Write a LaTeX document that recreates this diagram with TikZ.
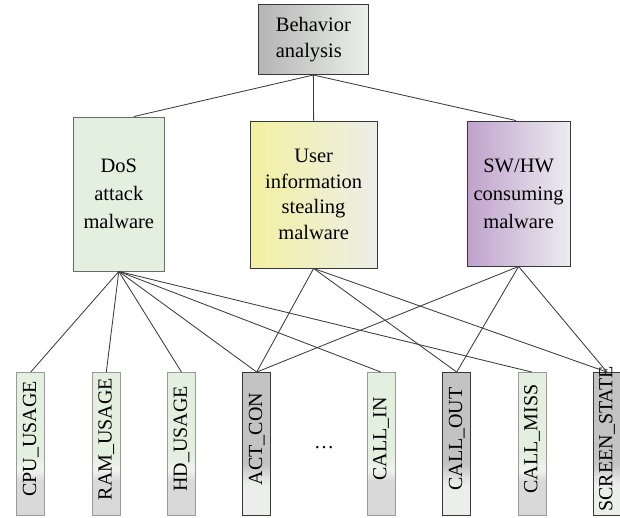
\documentclass[tikz,border=0pt]{standalone}
\usepackage{fontspec}
\setmainfont{Liberation Serif}
\usetikzlibrary{calc}
\definecolor{linec}{HTML}{3C3C3C}
\definecolor{boxdark}{HTML}{383838}
\definecolor{lborder}{HTML}{9A9A9A}
\definecolor{dosfill}{HTML}{E3EFDF}
\definecolor{dosborder}{HTML}{6A6A6A}
\definecolor{bgreen}{HTML}{E3EFDF}
\definecolor{bwhite}{HTML}{F1F3F0}
\definecolor{bgrey}{HTML}{D9D9D9}
\definecolor{dgrey}{HTML}{C3C3C3}
\definecolor{dlight}{HTML}{ECEEEC}
\definecolor{baL}{HTML}{B4B4B4}
\definecolor{baR}{HTML}{ECEFEA}
\definecolor{uiL}{HTML}{F3F0A0}
\definecolor{uiM}{HTML}{F0F1D2}
\definecolor{uiR}{HTML}{ECEEE8}
\definecolor{swL}{HTML}{C0A2CC}
\definecolor{swM}{HTML}{DCCEE2}
\definecolor{swR}{HTML}{ECECF0}
\pgfdeclareverticalshading{greenfade}{100bp}{color(0bp)=(bgrey); color(25bp)=(bgrey); color(37bp)=(bgrey); color(41bp)=(bwhite); color(46bp)=(bgreen); color(75bp)=(bgreen); color(100bp)=(bgreen)}
\pgfdeclareverticalshading{greyfade}{100bp}{color(0bp)=(dlight); color(25bp)=(dlight); color(36bp)=(dlight); color(43bp)=(dgrey); color(75bp)=(dgrey); color(100bp)=(dgrey)}
\begin{document}
\begin{tikzpicture}[x=1pt,y=-1pt,
  every node/.style={inner sep=0pt, text=black},
  topbox/.style={draw=boxdark, line width=0.9pt, align=center},
  lightbox/.style={draw=lborder, line width=0.8pt, shading=greenfade, minimum width=28pt, minimum height=143pt},
  darkbox/.style={draw=boxdark, line width=0.9pt, shading=greyfade, minimum width=28pt, minimum height=143pt},
  vlabel/.style={rotate=90, font=\fontsize{20}{24}\selectfont},
  conn/.style={draw=linec, line width=0.85pt}]
\useasboundingbox (0,0) rectangle (620,517);
% top level
\node[topbox, align=left, left color=baL, right color=baR, minimum width=110.3pt, minimum height=70.5pt, font=\fontsize{20.5}{26}\selectfont] (ba) at (313.4,39.3) {Behavior\\analysis};
% middle level
\node[topbox, draw=dosborder, fill=dosfill, minimum width=91.3pt, minimum height=154pt, font=\fontsize{20.5}{28}\selectfont] (dos) at (118.8,194) {DoS\\attack\\malware};
\node[topbox, left color=uiL, middle color=uiM, right color=uiR, minimum width=127.2pt, minimum height=147pt, font=\fontsize{20.5}{25.5}\selectfont] (ui) at (313.6,194.5) {User\\information\\stealing\\malware};
\node[topbox, left color=swL, middle color=swM, right color=swR, minimum width=103.2pt, minimum height=145pt, font=\fontsize{20.5}{28}\selectfont] (sw) at (518.6,193.5) {SW/HW\\consuming\\malware};
% bottom level
\node[lightbox] (cpu) at (30.7,444) {};
\node[lightbox] (ram) at (106.3,444) {};
\node[lightbox] (hd) at (181.5,444) {};
\node[darkbox] (act) at (256.7,444) {};
\node[lightbox] (callin) at (381,444) {};
\node[darkbox] (callout) at (456.7,444) {};
\node[lightbox] (callmiss) at (532,444) {};
\node[darkbox] (screen) at (607,444) {};
\node[vlabel] (cpuT) at ([yshift=5pt]cpu.center) {CPU\_USAGE};
\node[vlabel] (ramT) at ([yshift=5pt]ram.center) {RAM\_USAGE};
\node[vlabel] (hdT) at ([yshift=5pt]hd.center) {HD\_USAGE};
\node[vlabel] (actT) at ([yshift=5pt]act.center) {ACT\_CON};
\node[vlabel] (callinT) at ([yshift=5pt]callin.center) {CALL\_IN};
\node[vlabel] (calloutT) at ([yshift=5pt]callout.center) {CALL\_OUT};
\node[vlabel] (callmissT) at ([yshift=5pt]callmiss.center) {CALL\_MISS};
\node[vlabel] (screenT) at ([yshift=5pt]screen.center) {SCREEN\_STATE};
\node[font=\fontsize{20}{24}\selectfont] (dots) at (324,448) {…};
% connectors
\draw[conn] (ba.south) -- ([xshift=15pt]dos.north);
\draw[conn] (ba.south) -- (ui.north);
\draw[conn] (ba.south) -- ([xshift=-2.6pt]sw.north);
\foreach \t in {cpu,ram,hd,act,callin,callmiss}
  \draw[conn] (dos.south) -- (\t.north);
\foreach \t in {act,callout,screen}
  \draw[conn] (ui.south) -- (\t.north);
\foreach \t in {act,callout,screen}
  \draw[conn] (sw.south) -- (\t.north);
\end{tikzpicture}
\end{document}
